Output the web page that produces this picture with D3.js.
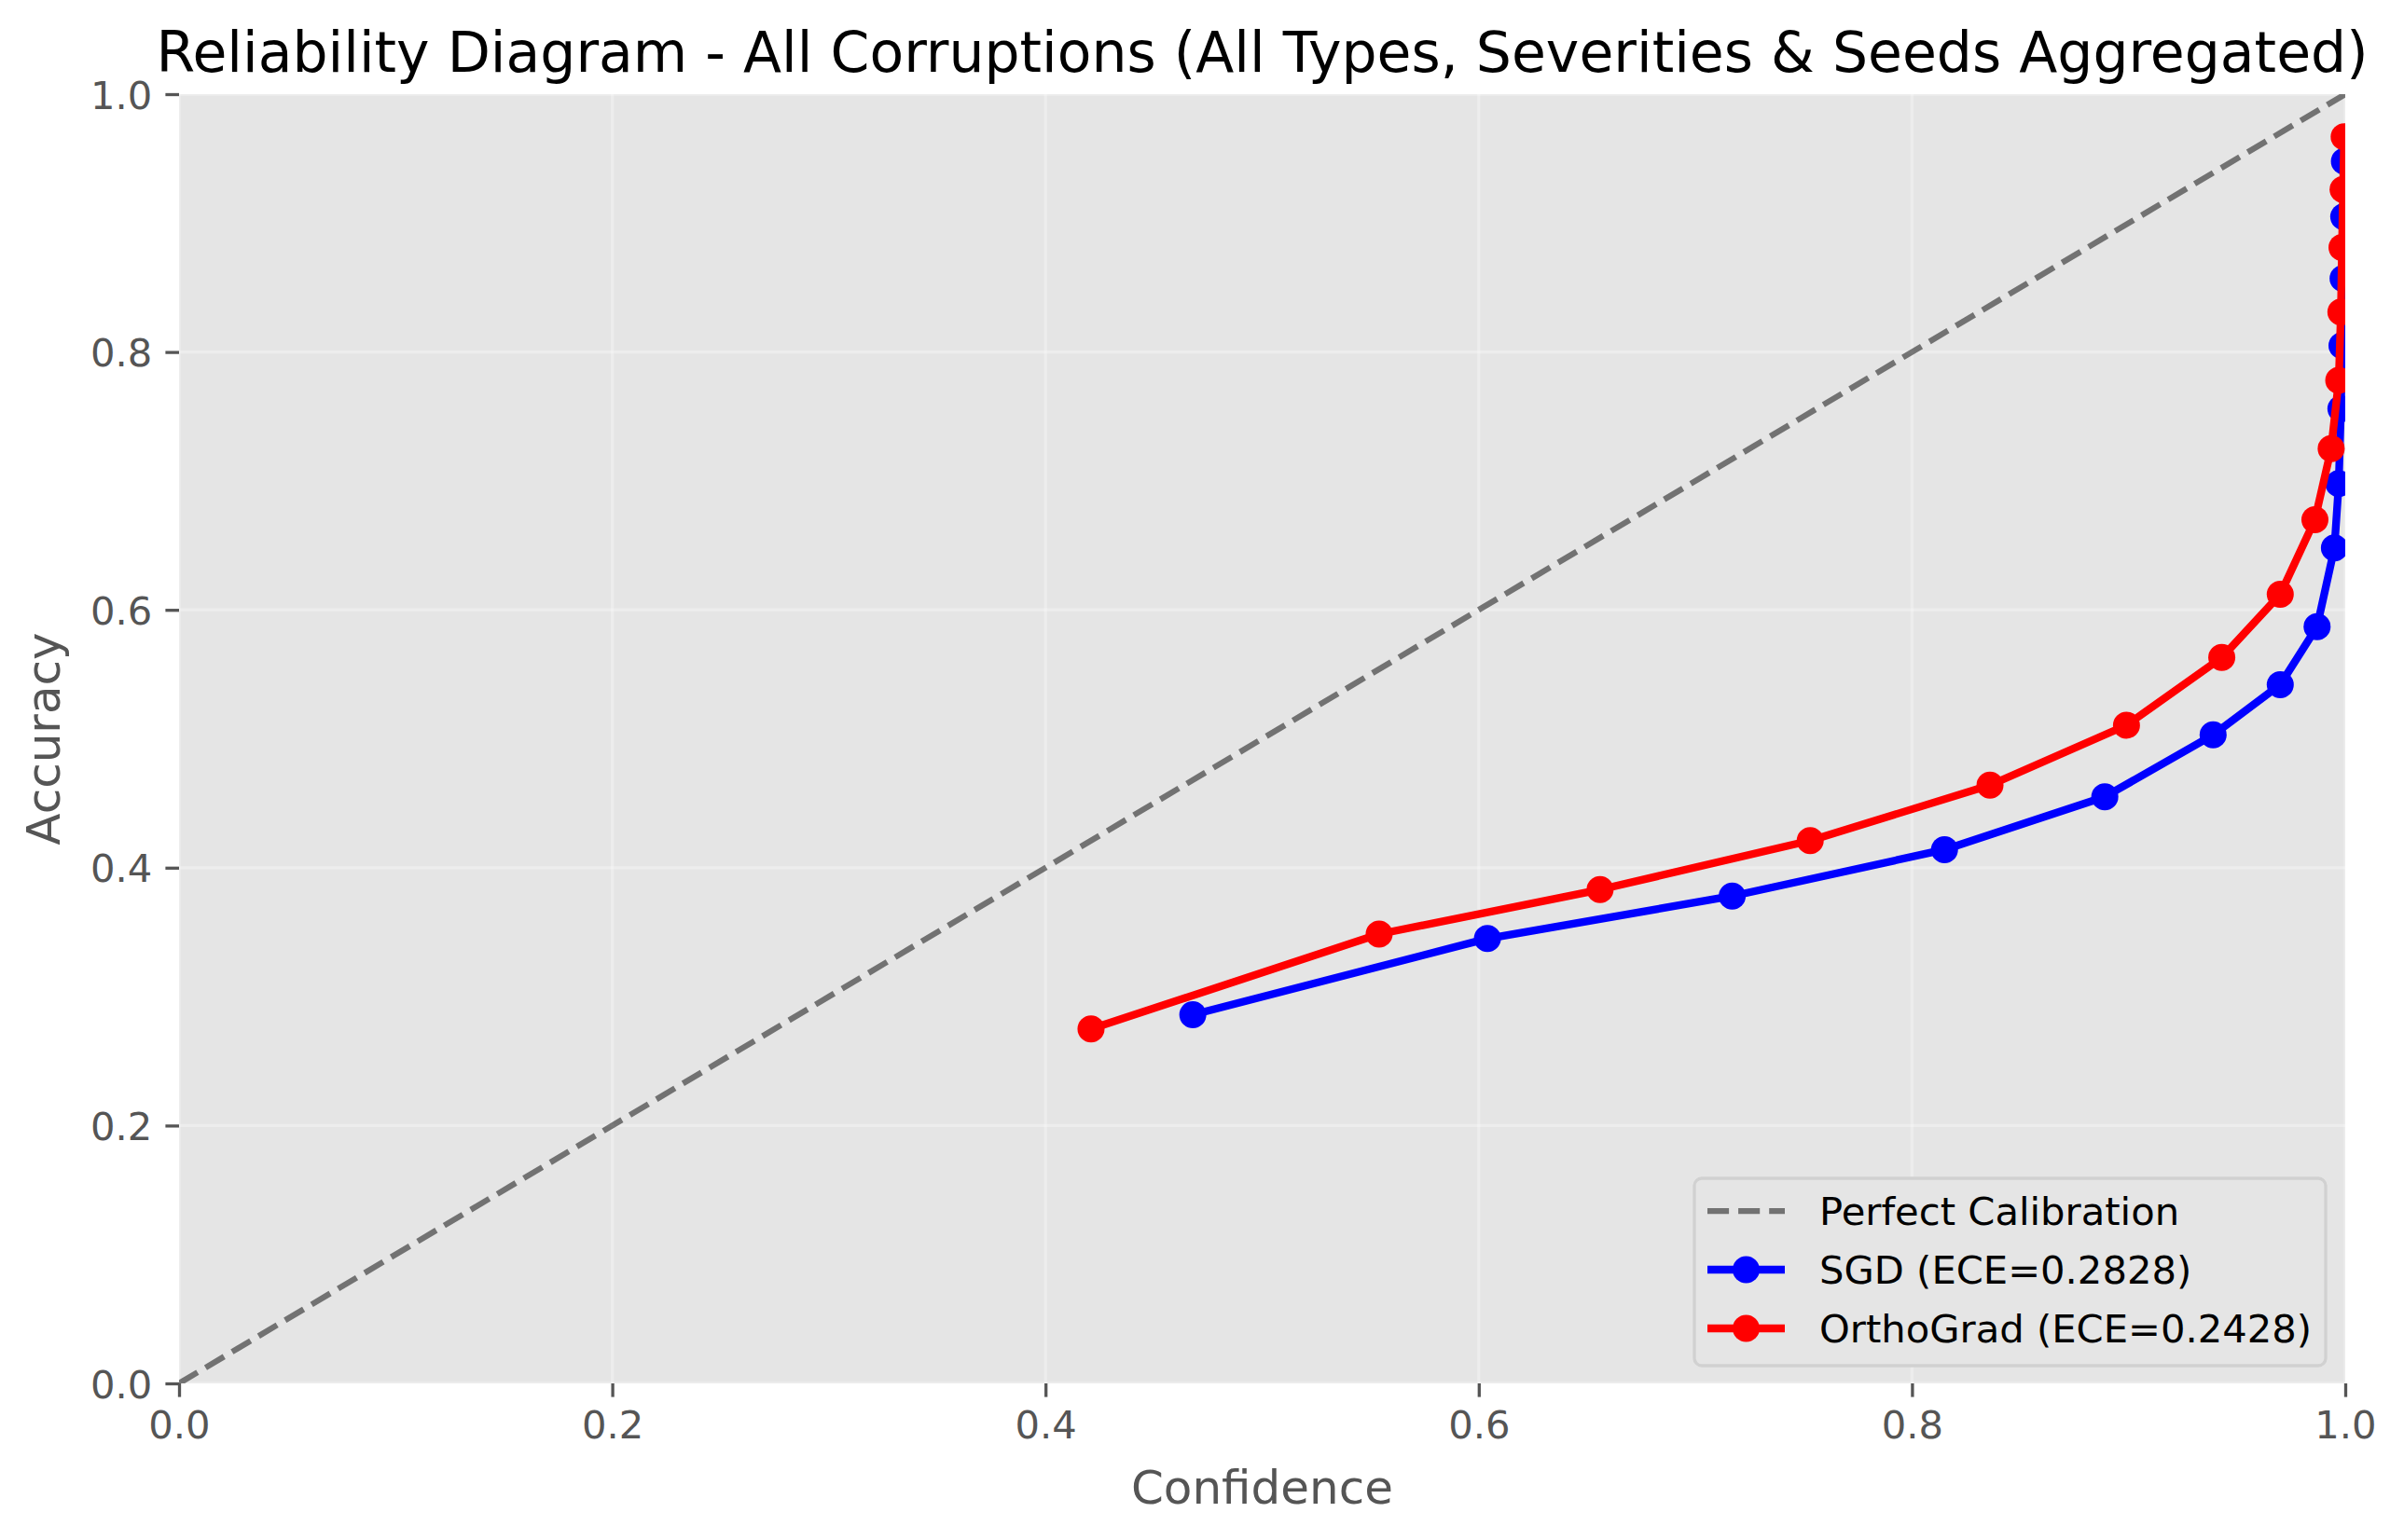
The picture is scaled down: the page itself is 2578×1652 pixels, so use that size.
<!DOCTYPE html>
<html>
<head>
  <style>
    body { margin: 0; background: #ffffff; }
    svg { display: block; font-family: "DejaVu Sans", sans-serif; }
  </style>
</head>
<body>
  <script src="https://d3js.org/d3.v7.min.js"></script>
  <script>
// values
const title = "Reliability Diagram - All Corruptions (All Types, Severities & Seeds Aggregated)";
const xLabel = "Confidence";
const yLabel = "Accuracy";
const tickValues = [0.0, 0.2, 0.4, 0.6, 0.8, 1.0];

const sgdConf = [0.468, 0.604, 0.717, 0.815, 0.889, 0.939, 0.970, 0.987, 0.995, 0.997, 0.998, 0.9985, 0.999, 0.9993, 0.9996];
const sgdAcc  = [0.286, 0.345, 0.378, 0.414, 0.455, 0.503, 0.542, 0.587, 0.648, 0.698, 0.756, 0.805, 0.857, 0.905, 0.948];
const orthoConf = [0.421, 0.554, 0.656, 0.753, 0.836, 0.899, 0.943, 0.970, 0.986, 0.9935, 0.997, 0.998, 0.9985, 0.999, 0.9995];
const orthoAcc  = [0.275, 0.3485, 0.383, 0.421, 0.464, 0.5105, 0.563, 0.612, 0.670, 0.725, 0.778, 0.831, 0.881, 0.926, 0.967];

const series = [
  { name: "SGD (ECE=0.2828)", color: "#0000ff", conf: sgdConf, acc: sgdAcc },
  { name: "OrthoGrad (ECE=0.2428)", color: "#ff0000", conf: orthoConf, acc: orthoAcc }
];

// figure layout
const width = 2578;
const height = 1652;
const margin = { top: 101, right: 63, bottom: 168, left: 192 };
const innerWidth = width - margin.left - margin.right;
const innerHeight = height - margin.top - margin.bottom;

const svg = d3.select("body")
  .append("svg")
  .attr("width", width)
  .attr("height", height);

svg.append("defs").append("clipPath")
  .attr("id", "plot-clip")
  .append("rect")
  .attr("width", innerWidth)
  .attr("height", innerHeight);

const g = svg.append("g")
  .attr("transform", `translate(${margin.left},${margin.top})`);

const x = d3.scaleLinear().domain([0, 1]).range([0, innerWidth]);
const y = d3.scaleLinear().domain([0, 1]).range([innerHeight, 0]);

// background
g.append("rect")
  .attr("width", innerWidth)
  .attr("height", innerHeight)
  .attr("fill", "#e5e5e5");

// grid
const grid = g.append("g");
grid.selectAll(".vgrid")
  .data(tickValues)
  .enter().append("line")
  .attr("x1", d => x(d)).attr("x2", d => x(d))
  .attr("y1", 0).attr("y2", innerHeight)
  .attr("stroke", "#ffffff").attr("stroke-opacity", 0.3).attr("stroke-width", 3.3);
grid.selectAll(".hgrid")
  .data(tickValues)
  .enter().append("line")
  .attr("y1", d => y(d)).attr("y2", d => y(d))
  .attr("x1", 0).attr("x2", innerWidth)
  .attr("stroke", "#ffffff").attr("stroke-opacity", 0.3).attr("stroke-width", 3.3);

// axes
const xAxis = d3.axisBottom(x).tickValues(tickValues).tickFormat(d3.format(".1f"))
  .tickSize(14.6).tickPadding(14);
const yAxis = d3.axisLeft(y).tickValues(tickValues).tickFormat(d3.format(".1f"))
  .tickSize(14.6).tickPadding(14);

const gx = g.append("g")
  .attr("transform", `translate(0,${innerHeight})`)
  .call(xAxis);
const gy = g.append("g").call(yAxis);

[gx, gy].forEach(ax => {
  ax.attr("font-size", null).attr("font-family", null).attr("fill", null);
  ax.select(".domain").remove();
  ax.selectAll(".tick line").attr("stroke", "#555555").attr("stroke-width", 3.3);
  ax.selectAll(".tick text")
    .attr("fill", "#555555")
    .attr("font-size", 41.7)
    .attr("font-family", "DejaVu Sans");
});
gx.selectAll(".tick text").attr("dy", 30);
gy.selectAll(".tick text").attr("dy", 15);

// plotted data
const plot = g.append("g").attr("clip-path", "url(#plot-clip)");

plot.append("line")
  .attr("x1", x(0)).attr("y1", y(0))
  .attr("x2", x(1)).attr("y2", y(1))
  .attr("stroke", "#000000").attr("stroke-opacity", 0.5)
  .attr("stroke-width", 6.25)
  .attr("stroke-dasharray", "23.1,10");

const line = d3.line()
  .x(d => x(d[0]))
  .y(d => y(d[1]));

series.forEach(s => {
  const pts = s.conf.map((c, i) => [c, s.acc[i]]);
  plot.append("path")
    .datum(pts)
    .attr("d", line)
    .attr("fill", "none")
    .attr("stroke", s.color)
    .attr("stroke-width", 8.33)
    .attr("stroke-linejoin", "round");
  plot.selectAll(null)
    .data(pts)
    .enter().append("circle")
    .attr("cx", d => x(d[0]))
    .attr("cy", d => y(d[1]))
    .attr("r", 14.5)
    .attr("fill", s.color);
});

// title and labels
svg.append("text")
  .attr("x", margin.left + innerWidth / 2)
  .attr("y", 77)
  .attr("text-anchor", "middle")
  .attr("font-size", 60)
  .attr("fill", "#000000")
  .text(title);

svg.append("text")
  .attr("x", margin.left + innerWidth / 2)
  .attr("y", 1613)
  .attr("text-anchor", "middle")
  .attr("font-size", 50)
  .attr("fill", "#555555")
  .text(xLabel);

svg.append("text")
  .attr("transform", `translate(64,${margin.top + innerHeight / 2}) rotate(-90)`)
  .attr("text-anchor", "middle")
  .attr("font-size", 50)
  .attr("fill", "#555555")
  .text(yLabel);

// legend
const legendItems = [
  { name: "Perfect Calibration", dashed: true },
  { name: series[0].name, color: series[0].color },
  { name: series[1].name, color: series[1].color }
];
const legend = svg.append("g").attr("transform", "translate(1817,1264)");
legend.append("rect")
  .attr("width", 677)
  .attr("height", 201)
  .attr("rx", 8).attr("ry", 8)
  .attr("fill", "#e5e5e5")
  .attr("stroke", "#d1d1d1")
  .attr("stroke-width", 3.3);

legendItems.forEach((item, i) => {
  const cy = 35 + i * 63;
  const row = legend.append("g").attr("transform", `translate(0,${cy})`);
  if (item.dashed) {
    row.append("line")
      .attr("x1", 14).attr("x2", 97)
      .attr("stroke", "#000000").attr("stroke-opacity", 0.5)
      .attr("stroke-width", 6.25)
      .attr("stroke-dasharray", "23.1,10");
  } else {
    row.append("line")
      .attr("x1", 14).attr("x2", 97)
      .attr("stroke", item.color)
      .attr("stroke-width", 8.33);
    row.append("circle")
      .attr("cx", 55.5).attr("r", 14.5)
      .attr("fill", item.color);
  }
  row.append("text")
    .attr("x", 134)
    .attr("y", 15)
    .attr("font-size", 41.7)
    .attr("fill", "#000000")
    .text(item.name);
});
  </script>
</body>
</html>
